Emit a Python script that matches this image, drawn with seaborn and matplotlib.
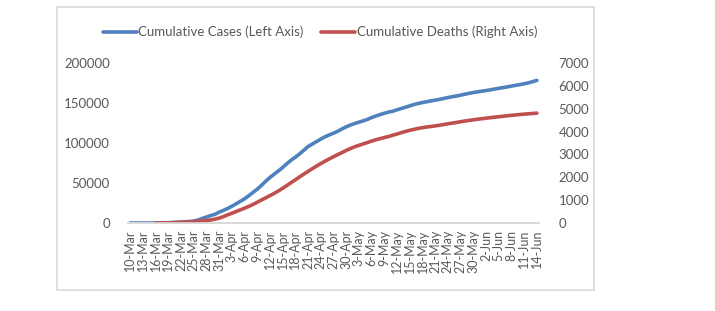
import pandas as pd
import numpy as np
import matplotlib
matplotlib.use("Agg")
import matplotlib.pyplot as plt
from matplotlib.patches import Rectangle
import seaborn as sns

sns.set_style("white")
plt.rcParams['font.family'] = ['Lato', 'DejaVu Sans']

# Data: daily cumulative figures, 10-Mar to 14-Jun
dates = pd.date_range("2020-03-10", "2020-06-14", freq="D")
day_labels = [f"{d.day}-{d.strftime('%b')}" for d in dates]

cases = [
    0, 1, 1, 5, 6, 18, 47, 98, 191, 359, 670, 947, 1236, 1529, 1872, 2433,
    3629, 5698, 7402, 9217, 10827, 13531, 15679, 18135, 20921, 23934, 27069,
    30217, 34109, 38226, 42282, 47029, 52167, 56956, 61049, 65111, 69392,
    74193, 78546, 82329, 86306, 90980, 95591, 98674, 101790, 104912, 107773,
    110130, 112261, 114653, 117589, 120204, 122392, 124375, 126045, 127659,
    129491, 131744, 133721, 135569, 137115, 138657, 139771, 141475, 143114,
    144749, 146457, 148067, 149435, 150593, 151615, 152587, 153548, 154500,
    155686, 156827, 157814, 158762, 159797, 160979, 162120, 163103, 163942,
    164769, 165555, 166422, 167410, 168340, 169218, 170132, 171121, 172114,
    173036, 174023, 175218, 176677, 178239,
]

deaths = [
    np.nan, np.nan, np.nan, np.nan, np.nan, np.nan, 0, 1, 2, 3, 9, 21, 30,
    37, 44, 59, 75, 92, 108, 131, 168, 214, 277, 356, 425, 501, 574, 649,
    725, 812, 908, 1006, 1101, 1198, 1296, 1403, 1518, 1643, 1769, 1890,
    2017, 2140, 2259, 2376, 2491, 2600, 2706, 2805, 2900, 2992, 3081, 3174,
    3258, 3336, 3397, 3461, 3520, 3584, 3641, 3689, 3739, 3786, 3841, 3894,
    3952, 4007, 4055, 4096, 4140, 4171, 4199, 4222, 4249, 4276, 4308, 4340,
    4369, 4397, 4431, 4461, 4489, 4515, 4540, 4563, 4585, 4609, 4630, 4648,
    4669, 4692, 4711, 4729, 4746, 4763, 4778, 4792, 4807,
]

left_ticks = [0, 50000, 100000, 150000, 200000]
right_ticks = [0, 1000, 2000, 3000, 4000, 5000, 6000, 7000]

df = pd.DataFrame({
    "day": np.arange(len(dates)),
    "cases": cases,
    "deaths": deaths,
})

blue = "#4F81BD"
red = "#C0504D"
label_color = "#595959"

fig = plt.figure(figsize=(7.15, 3.11), dpi=100)
fig.subplots_adjust(left=128/715, right=539/715, bottom=88/311, top=248/311)
ax = fig.add_subplot(111)
ax2 = ax.twinx()

sns.lineplot(data=df, x="day", y="cases", ax=ax, color=blue,
             linewidth=2.6, label="Cumulative Cases (Left Axis)", legend=False)
sns.lineplot(data=df, x="day", y="deaths", ax=ax2, color=red,
             linewidth=2.6, label="Cumulative Deaths (Right Axis)", legend=False)

ax.set_xlim(-0.5, len(dates) - 0.5)
ax.set_ylim(0, 200000)
ax2.set_ylim(0, 7000)

ax.set_xticks(df["day"][::3])
ax.set_xticklabels(day_labels[::3], rotation=90, fontsize=9, color=label_color)
ax.set_yticks(left_ticks)
ax.set_yticklabels([str(t) for t in left_ticks], fontsize=9.5, color=label_color)
ax2.set_yticks(right_ticks)
ax2.set_yticklabels([str(t) for t in right_ticks], fontsize=9.5, color=label_color)

ax.tick_params(axis="x", length=0, pad=5)
ax.tick_params(axis="y", length=0, pad=13)
ax2.tick_params(axis="y", length=0, pad=14)

ax.set_xlabel("")
ax.set_ylabel("")
ax2.set_ylabel("")

for a in (ax, ax2):
    for side in ("top", "left", "right"):
        a.spines[side].set_visible(False)
    a.spines["bottom"].set_color("#d9d9d9")
    a.spines["bottom"].set_linewidth(1.2)
ax.grid(False)
ax2.grid(False)

handles = ax.get_lines() + ax2.get_lines()
fig.legend(handles=handles, labels=[h.get_label() for h in handles],
           loc="center", bbox_to_anchor=(320/715, 1 - 32/311), ncol=2,
           frameon=False, fontsize=9.5, handlelength=2.6, handletextpad=0.1,
           columnspacing=1.3, labelcolor=label_color)

# outer chart border
fig.add_artist(Rectangle((57/715, 21/311), (594 - 57)/715, (290 - 7)/311,
                         transform=fig.transFigure, fill=False,
                         edgecolor="#d9d9d9", linewidth=1.2))

plt.savefig("out.png", dpi=100)
plt.close()
